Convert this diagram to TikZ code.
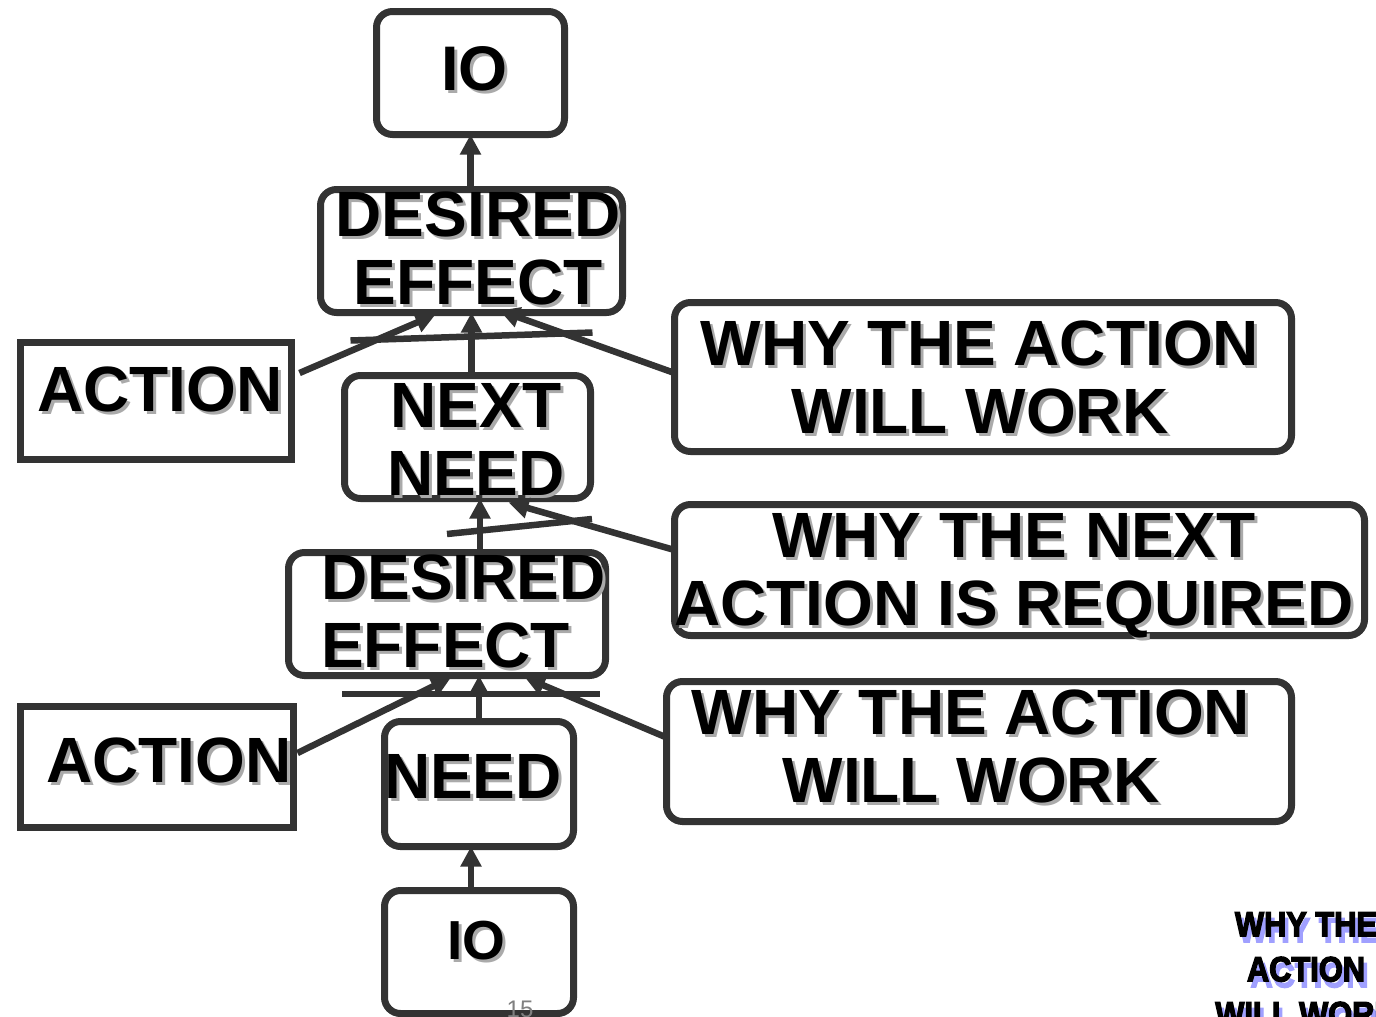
\documentclass[tikz,border=0pt]{standalone}
\usepackage{fontspec}
\setmainfont{Liberation Sans}
\newfontfamily\heavyfont[FakeBold=4]{Liberation Sans Bold}
\usetikzlibrary{arrows.meta,calc}
\definecolor{ink}{RGB}{51,51,51}
\definecolor{shade}{RGB}{170,170,170}
\definecolor{blueshade}{RGB}{160,160,255}
% text with a soft drop shadow
\newcommand\shtext[1]{\rlap{\smash{\kern3pt\raisebox{-3pt}{\textcolor{shade}{#1}}}}#1}
\newcommand\blueshtext[1]{\scalebox{0.88}[1]{\rlap{\smash{\kern4pt\raisebox{-6pt}{\textcolor{blueshade}{#1}}}}#1}}
\begin{document}
\begin{tikzpicture}[x=1pt,y=-1pt,
  box/.style={draw=ink,line width=7pt,rounded corners=16pt,inner sep=0pt,outer sep=0pt},
  sqbox/.style={draw=ink,line width=7pt,inner sep=0pt,outer sep=0pt},
  lbl/.style={inner sep=0pt,font=\bfseries\fontsize{64}{68}\selectfont,align=center},
  arr/.style={draw=ink,line width=6.5pt,-{Triangle[length=20pt,width=20pt]}},
  bar/.style={draw=ink,line width=6.5pt}]
\clip (0,0) rectangle (1376,1017);
\fill[white] (0,0) rectangle (1376,1017);

% boxes
\node[box,minimum width=188pt,minimum height=123pt] (io1) at (470.5,73) {};
\node[box,minimum width=302pt,minimum height=123pt] (de1) at (471.5,251) {};
\node[sqbox,minimum width=271pt,minimum height=117pt] (act1) at (156,401) {};
\node[box,minimum width=246pt,minimum height=123pt] (nn) at (467.5,437) {};
\node[box,minimum width=617pt,minimum height=149pt] (why1) at (983,377) {};
\node[box,minimum width=690pt,minimum height=131pt] (why2) at (1019.5,570) {};
\node[box,minimum width=317pt,minimum height=123pt] (de2) at (447,614) {};
\node[sqbox,minimum width=273pt,minimum height=121pt] (act2) at (157,767) {};
\node[box,minimum width=189pt,minimum height=125pt] (need) at (479,784) {};
\node[box,minimum width=625pt,minimum height=140pt] (why3) at (979,751.5) {};
\node[box,minimum width=189pt,minimum height=123pt] (io2) at (479,952) {};

% labels
\node[lbl,font=\bfseries\fontsize{63}{68}\selectfont] (io1t) at (474.5,68.5) {\shtext{IO}};
\node[lbl] (de1t) at (478,248) {\shtext{DESIRED}\\\shtext{EFFECT}};
\node[lbl] (act1t) at (160,389.5) {\shtext{ACTION}};
\node[lbl] (nnt) at (476,439.5) {\shtext{NEXT}\\\shtext{NEED}};
\node[lbl] (why1t) at (980,377) {\shtext{WHY THE ACTION}\\\shtext{WILL WORK}};
\node[lbl] (why2t) at (1014,576) {\shtext{WHY THE NEXT}\\\shtext{ACTION IS REQUIRED}};
\node[lbl,align=left,anchor=west] (de2t) at (321,611) {\shtext{DESIRED}\\\shtext{EFFECT}};
\node[lbl] (act2t) at (169,760) {\shtext{ACTION}};
\node[lbl] (needt) at (473,776) {\shtext{NEED}};
\node[lbl] (why3t) at (971,746.5) {\shtext{WHY THE ACTION}\\\shtext{WILL WORK}};
\node[lbl,font=\bfseries\fontsize{55}{60}\selectfont] (io2t) at (476.5,941) {\shtext{IO}};

% upper chain
\draw[arr] (io1.south |- de1.north) -- (io1.south);
\draw[arr] (de1.south |- nn.north) -- (de1.south);
\draw[arr] ($(act1.east)+(8,-28)$) -- ($(de1.south)+(-36,2)$);
\draw[arr] ($(why1.west)+(0,-4)$) -- ($(de1.south)+(28,-2)$);
\draw[bar] ($(de1.south)+(-121,28)$) -- ($(de1.south)+(121,20)$);

% middle link
\draw[arr] ($(de2.north)+(33,0)$) -- ($(nn.south)+(12.5,0)$);
\draw[arr] ($(why2.west)+(0,-20)$) -- ($(nn.south)+(41,4)$);
\draw[bar] ($(nn.south)+(-20.5,35.5)$) -- ($(nn.south)+(124.5,20.5)$);

% lower chain
\draw[arr] (need.north) -- (need.north |- de2.south);
\draw[arr] ($(act2.east)+(4,-14)$) -- ($(de2.south)+(4,2)$);
\draw[arr] ($(why3.west)+(0,-14)$) -- ($(de2.south)+(78,2)$);
\draw[bar] ($(de2.south)+(-105,18.5)$) -- ($(de2.south)+(153,18.5)$);
\draw[arr] ($(io2.north)+(-8,0)$) -- ($(need.south)+(-8,0)$);

% page number and corner caption
\node[inner sep=0pt,anchor=base,text=gray,font=\fontsize{24}{28}\selectfont] (pg) at (520,1017) {15};
\node[inner sep=0pt,anchor=north,align=center,font=\heavyfont\fontsize{35}{45}\selectfont] (corner) at (1306,912)
  {\blueshtext{WHY THE}\\\blueshtext{ACTION}\\\blueshtext{WILL WORK}};
\end{tikzpicture}
\end{document}
